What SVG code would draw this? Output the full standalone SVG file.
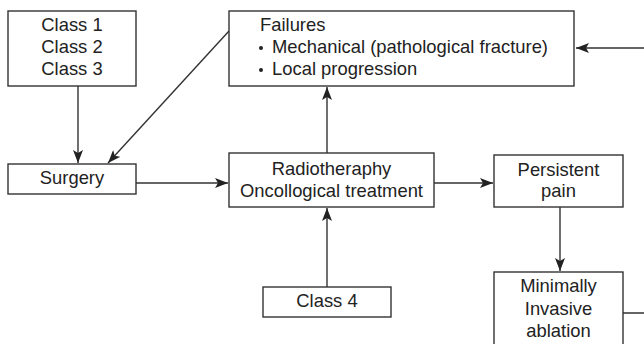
<svg xmlns="http://www.w3.org/2000/svg" width="644" height="344" viewBox="0 0 644 344">
<style>
.box{fill:#fff;stroke:#333;stroke-width:1.4}
.t{font-family:"Liberation Sans",Arial,sans-serif;font-size:18.4px;fill:#222}
.c{text-anchor:middle}
.ln{fill:none;stroke:#333;stroke-width:1.4}
</style>
<defs>
<marker id="ah" markerWidth="14" markerHeight="10" refX="13" refY="5" orient="auto" markerUnits="userSpaceOnUse">
<path d="M0,0 L13,5 L0,10 L3,5 Z" fill="#222"/>
</marker>
</defs>
<g id="connectors">
<line class="ln" x1="78" y1="86" x2="78" y2="163" marker-end="url(#ah)"/>
<line class="ln" x1="229" y1="31" x2="108" y2="163" marker-end="url(#ah)"/>
<line class="ln" x1="136" y1="183" x2="228" y2="183" marker-end="url(#ah)"/>
<line class="ln" x1="327" y1="153" x2="327" y2="87" marker-end="url(#ah)"/>
<line class="ln" x1="327" y1="287" x2="327" y2="208" marker-end="url(#ah)"/>
<line class="ln" x1="434" y1="183" x2="493" y2="183" marker-end="url(#ah)"/>
<line class="ln" x1="560" y1="207" x2="560" y2="271" marker-end="url(#ah)"/>
<path class="ln" d="M623,313 H660 V48 H576" marker-end="url(#ah)"/>
</g>
<g id="classes">
<rect class="box" x="8" y="11" width="128" height="75"/>
<text class="t c" x="72" y="31">Class 1</text>
<text class="t c" x="72" y="53">Class 2</text>
<text class="t c" x="72" y="75">Class 3</text>
</g>
<g id="failures">
<rect class="box" x="229" y="11" width="345" height="75"/>
<text class="t" x="260" y="31">Failures</text>
<circle cx="261" cy="48" r="2" fill="#222"/>
<text class="t" x="272" y="53">Mechanical (pathological fracture)</text>
<circle cx="261" cy="70" r="2" fill="#222"/>
<text class="t" x="272" y="75">Local progression</text>
</g>
<g id="surgery">
<rect class="box" x="8" y="164" width="128" height="30"/>
<text class="t c" x="72" y="184">Surgery</text>
</g>
<g id="radiotherapy">
<rect class="box" x="229" y="153" width="205" height="54"/>
<text class="t c" x="331.5" y="175">Radiotheraphy</text>
<text class="t c" x="331.5" y="197">Oncollogical treatment</text>
</g>
<g id="persistent">
<rect class="box" x="494" y="155" width="129" height="52"/>
<text class="t c" x="558.5" y="176">Persistent</text>
<text class="t c" x="558.5" y="197">pain</text>
</g>
<g id="class4">
<rect class="box" x="263" y="287" width="128" height="30"/>
<text class="t c" x="327" y="307">Class 4</text>
</g>
<g id="ablation">
<rect class="box" x="494" y="272" width="129" height="80"/>
<text class="t c" x="558.5" y="292">Minimally</text>
<text class="t c" x="558.5" y="315">Invasive</text>
<text class="t c" x="558.5" y="337">ablation</text>
</g>
</svg>
